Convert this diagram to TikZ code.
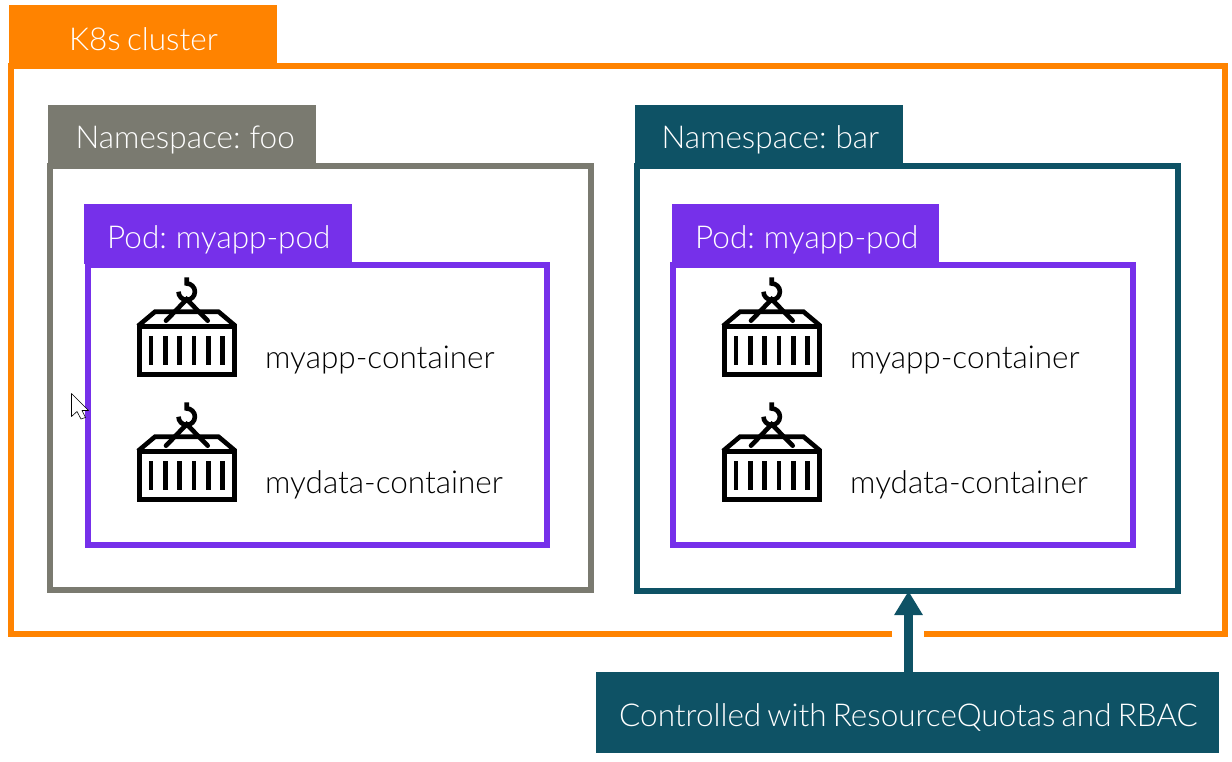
\documentclass[tikz,border=0pt]{standalone}
\usepackage{fontspec}
\setmainfont[WordSpace=0.72]{Lato Light}
\usetikzlibrary{arrows.meta,calc}
\definecolor{hpeorange}{HTML}{FF8300}
\definecolor{hpegray}{HTML}{7A7A70}
\definecolor{hpeteal}{HTML}{0E5265}
\definecolor{hpepurple}{HTML}{7630EA}
\tikzset{
  frame/.style={draw=#1,line width=6pt,anchor=north west,inner sep=0pt,outer sep=0pt},
  tab/.style={fill=#1,anchor=north west,inner sep=0pt,outer sep=0pt,minimum width=268pt,minimum height=59pt},
  lbl/.style={anchor=base west,inner sep=0pt,font=\fontsize{31.5}{32}\selectfont,text=#1},
  icon/.style={line width=4.6pt,draw=black,line join=miter},
  pics/crate/.style={code={
    \draw[icon] (2.5,2.5) rectangle (97.5,50.5);
    \draw[icon] (1,2) -- (18,-12.3) -- (81.5,-12.3) -- (98.5,2);
    \draw[icon,line cap=round] (29,-3.3) -- (49.7,-24.7) -- (70.7,-3.3);
    \draw[icon] (49.7,-46.7) -- (49.7,-40.5) arc[start angle=-90,end angle=180,radius=8.2];
    \foreach \bx in {14,28.3,42.7,57,71.3,85.7}
      \draw[line width=4.8pt] (\bx,12.3) -- (\bx,41.3);
  }}
}
\begin{document}
\begin{tikzpicture}[x=1pt,y=-1pt]
\useasboundingbox (0,0) rectangle (1232,761);
% cluster
\node[tab=hpeorange,minimum height=60pt] (tabk) at (9,5) {};
\coordinate (gapl) at (892,634);
\coordinate (gapr) at (924,634);
\draw[hpeorange,line width=6pt] (gapl) -- (11,634) -- (11,66) -- (1225,66) -- (1225,634) -- (gapr);
\node[lbl=white] (tk) at (69,50) {K8s cluster};
% namespaces
\node[tab=hpegray,minimum height=60pt] (tabfoo) at (48,105) {};
\node[frame=hpegray,minimum width=541pt,minimum height=424pt] (nsfoo) at (50,166) {};
\node[lbl=white] (tfoo) at (75.5,148) {Namespace: foo};
\node[tab=hpeteal,minimum height=60pt] (tabbar) at (635,105) {};
\node[frame=hpeteal,minimum width=541pt,minimum height=425pt] (nsbar) at (637,166) {};
\node[lbl=white] (tbar) at (661.5,148) {Namespace: bar};
% pods
\node[tab=hpepurple,minimum height=60pt] (tabp1) at (84,204) {};
\node[frame=hpepurple,minimum width=459pt,minimum height=280pt] (pod1) at (88,265) {};
\node[lbl=white] (tp1) at (107,248) {Pod: myapp-pod};
\node[tab=hpepurple,minimum height=60pt,minimum width=267pt] (tabp2) at (672,204) {};
\node[frame=hpepurple,minimum width=460pt,minimum height=280pt] (pod2) at (673,265) {};
\node[lbl=white] (tp2) at (695,248) {Pod: myapp-pod};
% icons
\pic at (137,324) {crate};
\pic at (137,449) {crate};
\pic at (722,324) {crate};
\pic at (722,449) {crate};
% labels
\node[lbl=black] (c1) at (265,368) {myapp-container};
\node[lbl=black] (c2) at (265,493) {mydata-container};
\node[lbl=black] (c3) at (850,368) {myapp-container};
\node[lbl=black] (c4) at (850,493) {mydata-container};
% control
\node[fill=hpeteal,anchor=north west,inner sep=0pt,outer sep=0pt,minimum width=623pt,minimum height=81pt] (ctrl) at (596,672) {};
\node[lbl=white] (tc) at (619,726) {Controlled with ResourceQuotas and RBAC};
\coordinate (ax) at (908.5,600);
\draw[hpeteal,line width=9pt,-{Triangle[width=27pt,length=24pt]}] (ctrl.north -| ax) -- (ax |- nsbar.south);
% cursor
\coordinate (cur) at (71.5,393.5);
\draw[black,fill=white,line width=.6pt,line join=round,shift={(cur)}] (0,0) -- (0,23) -- (5.5,18) -- (9.5,25.5) -- (14,24) -- (10.5,17) -- (17,17) -- cycle;
\end{tikzpicture}
\end{document}
